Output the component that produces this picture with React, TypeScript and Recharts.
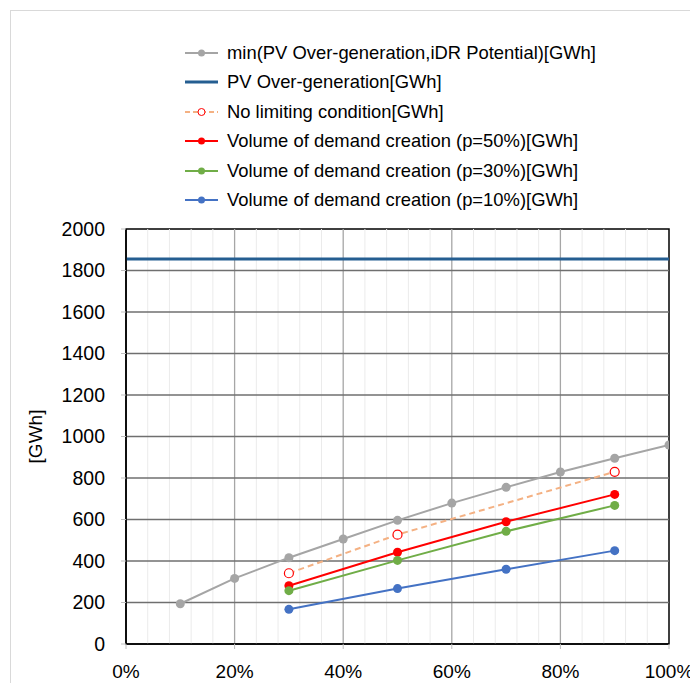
import { LineChart, Line, XAxis, YAxis, Legend, ReferenceLine, ReferenceArea } from "recharts";

const shareX = [10, 20, 30, 40, 50, 60, 70, 80, 90, 100];
const minPotential = [194, 316, 416, 506, 596, 679, 755, 829, 895, 959];

const pvX = [0, 100];
const pvOverGen = [1855, 1855];

const noLimitX = [30, 50, 90];
const noLimit = [341, 527, 830];

const demandX = [30, 50, 70, 90];
const demandP50 = [281, 442, 589, 721];
const demandP30 = [257, 403, 543, 668];
const demandP10 = [167, 267, 360, 450];

const xTicks = [0, 20, 40, 60, 80, 100];
const xMinor = [4, 8, 12, 16, 24, 28, 32, 36, 44, 48, 52, 56, 64, 68, 72, 76, 84, 88, 92, 96];
const yTicks = [0, 200, 400, 600, 800, 1000, 1200, 1400, 1600, 1800, 2000];

const toRows = (xs: number[], ys: number[]) => xs.map((x, i) => ({ x, y: ys[i] }));

const FONT = "'Liberation Sans', Arial, sans-serif";

const legendItems = [
  { name: "min(PV Over-generation,iDR Potential)[GWh]", color: "#a5a5a5", dot: "fill" },
  { name: "PV Over-generation[GWh]", color: "#255e91", dot: "none", width: 3 },
  { name: "No limiting condition[GWh]", color: "#f4b183", dot: "hollow", dash: "5 3" },
  { name: "Volume of demand creation (p=50%)[GWh]", color: "#ff0000", dot: "fill" },
  { name: "Volume of demand creation (p=30%)[GWh]", color: "#70ad47", dot: "fill" },
  { name: "Volume of demand creation (p=10%)[GWh]", color: "#4472c4", dot: "fill" },
];

function LegendBox() {
  return (
    <div style={{ fontFamily: FONT, fontSize: 18.4, color: "#000", whiteSpace: "nowrap" }}>
      {legendItems.map((it) => (
        <div key={it.name} style={{ display: "flex", alignItems: "center", height: 29.5 }}>
          <svg width={38} height={12} style={{ marginRight: 4 }}>
            <line x1={0} y1={6} x2={33} y2={6} stroke={it.color} strokeWidth={it.width || 2} strokeDasharray={it.dash} />
            {it.dot === "fill" && <circle cx={16.5} cy={6} r={3.5} fill={it.color} />}
            {it.dot === "hollow" && <circle cx={16.5} cy={6} r={3.5} fill="#fff" stroke="#ff0000" strokeWidth={1} />}
          </svg>
          <span>{it.name}</span>
        </div>
      ))}
    </div>
  );
}

const dotFill = (c: string) => ({ r: 4.5, fill: c, stroke: c, strokeWidth: 0 });

export default function App() {
  return (
    <div style={{ position: "relative", width: 690, height: 675, overflow: "hidden" }}>
      <div style={{ position: "absolute", left: 2, top: 2, width: 800, height: 800, border: "1px solid #d9d9d9" }} />
      <LineChart
        width={690}
        height={675}
        margin={{ top: 221, right: 29, bottom: 9, left: 18 }}
        style={{ position: "absolute", left: 0, top: 0 }}
      >
        {xMinor.map((v) => (
          <ReferenceLine key={"m" + v} x={v} stroke="#ebebeb" strokeWidth={1} />
        ))}
        {xTicks.slice(1, -1).map((v) => (
          <ReferenceLine key={"v" + v} x={v} stroke="#a6a6a6" strokeWidth={1.3} />
        ))}
        {yTicks.slice(1, -1).map((v) => (
          <ReferenceLine key={"h" + v} y={v} stroke="#6f6f6f" strokeWidth={1.3} />
        ))}
        <ReferenceArea x1={0} x2={100} y1={0} y2={2000} fill="none" stroke="#000" strokeWidth={1.5} />
        <XAxis
          type="number"
          dataKey="x"
          domain={[0, 100]}
          ticks={xTicks}
          tickFormatter={(v: number) => `${v}%`}
          allowDataOverflow
          height={30}
          axisLine={{ stroke: "#000", strokeWidth: 1.5 }}
          tickLine={{ stroke: "#bfbfbf" }}
          tickSize={5}
          tickMargin={16}
          tick={{ fill: "#000", fontSize: 19, fontFamily: FONT }}
        />
        <YAxis
          type="number"
          domain={[0, 2000]}
          ticks={yTicks}
          allowDataOverflow
          width={100}
          axisLine={{ stroke: "#000", strokeWidth: 1.5 }}
          tickLine={{ stroke: "#bfbfbf" }}
          tickSize={5}
          tickMargin={16}
          tick={{ fill: "#000", fontSize: 19.5, fontFamily: FONT }}
          label={{
            content: (props: any) => {
              const vb = props.viewBox;
              const cx = vb.x + 9;
              const cy = vb.y + vb.height / 2;
              return (
                <text x={cx} y={cy} transform={`rotate(-90 ${cx} ${cy})`} textAnchor="middle" dominantBaseline="central" fontSize={19} fontFamily={FONT} fill="#000">
                  [GWh]
                </text>
              );
            },
          }}
        />
        <Line data={toRows(pvX, pvOverGen)} dataKey="y" stroke="#255e91" strokeWidth={3} dot={false} isAnimationActive={false} />
        <Line data={toRows(shareX, minPotential)} dataKey="y" stroke="#a5a5a5" strokeWidth={2} dot={dotFill("#a5a5a5")} isAnimationActive={false} />
        <Line
          data={toRows(noLimitX, noLimit)}
          dataKey="y"
          stroke="#f4b183"
          strokeWidth={2}
          strokeDasharray="6 4"
          dot={{ r: 4.5, fill: "#fff", stroke: "#ff0000", strokeWidth: 1.2, strokeDasharray: "" }}
          isAnimationActive={false}
        />
        <Line data={toRows(demandX, demandP50)} dataKey="y" stroke="#ff0000" strokeWidth={2} dot={dotFill("#ff0000")} isAnimationActive={false} />
        <Line data={toRows(demandX, demandP30)} dataKey="y" stroke="#70ad47" strokeWidth={2} dot={dotFill("#70ad47")} isAnimationActive={false} />
        <Line data={toRows(demandX, demandP10)} dataKey="y" stroke="#4472c4" strokeWidth={2} dot={dotFill("#4472c4")} isAnimationActive={false} />
        <Legend
          layout="vertical"
          align="center"
          verticalAlign="middle"
          content={() => <LegendBox />}
          wrapperStyle={{ top: 30, left: 177, width: 500 }}
        />
      </LineChart>
    </div>
  );
}
